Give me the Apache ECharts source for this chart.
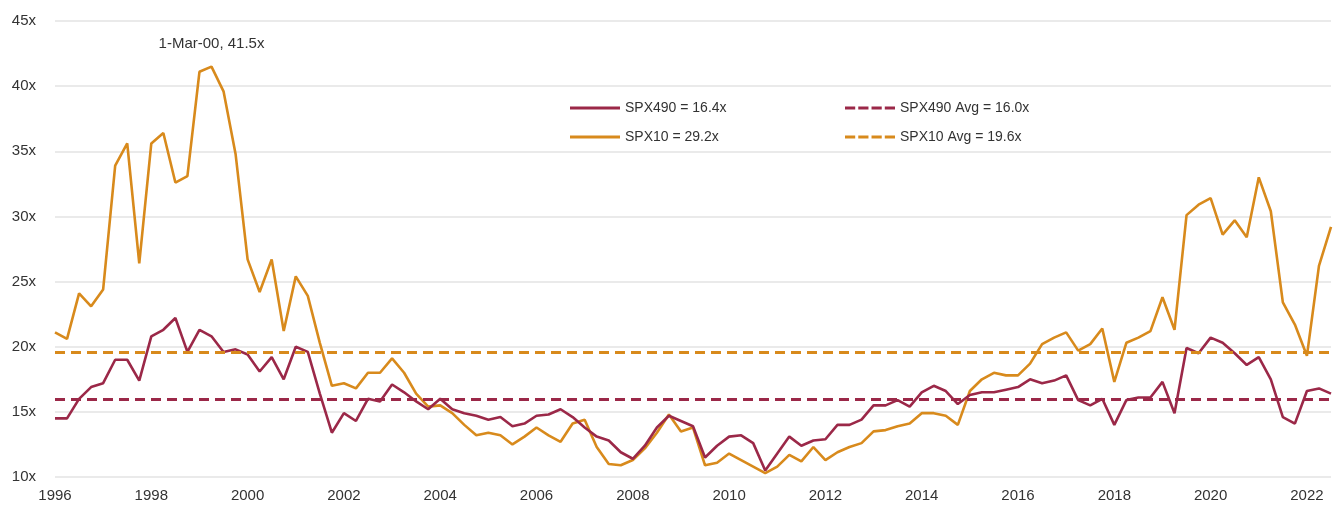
<!DOCTYPE html>
<html>
<head>
<meta charset="utf-8">
<script src="https://cdn.jsdelivr.net/npm/echarts@6/dist/echarts.min.js"></script>
<style>
html,body{margin:0;padding:0;background:#fff;}
#chart{width:1333px;height:506px;}
</style>
</head>
<body>
<div id="chart"></div>
<script>
// Quarterly observations, 1996 Q1 .. 2022 Q3
const quarters = [];
for (let y = 1996; y <= 2022; y++) { for (let q = 1; q <= 4; q++) { quarters.push(y + 'Q' + q); } }
const categories = quarters.slice(0, 107);

const spx490 = [14.5,14.5,16.0,16.9,17.2,19.0,19.0,17.4,20.8,21.3,22.2,19.6,21.3,20.8,19.6,19.8,
19.4,18.1,19.2,17.5,20.0,19.6,16.4,13.4,14.9,14.3,16.0,15.8,17.1,16.5,15.8,15.2,
16.0,15.2,14.9,14.7,14.4,14.6,13.9,14.1,14.7,14.8,15.2,14.6,13.8,13.1,12.8,11.9,
11.4,12.4,13.8,14.7,14.3,13.9,11.5,12.4,13.1,13.2,12.6,10.5,11.8,13.1,12.4,12.8,
12.9,14.0,14.0,14.4,15.5,15.5,15.9,15.4,16.5,17.0,16.6,15.6,16.3,16.5,16.5,16.7,
16.9,17.5,17.2,17.4,17.8,15.9,15.5,16.0,14.0,15.9,16.1,16.1,17.3,14.9,19.9,19.5,
20.7,20.3,19.5,18.6,19.2,17.5,14.6,14.1,16.6,16.8,16.4];

const spx10 = [21.1,20.6,24.1,23.1,24.4,33.9,35.6,26.4,35.6,36.4,32.6,33.1,41.1,41.5,39.6,34.8,
26.7,24.2,26.7,21.2,25.4,23.9,20.3,17.0,17.2,16.8,18.0,18.0,19.1,18.0,16.4,15.4,
15.5,14.9,14.0,13.2,13.4,13.2,12.5,13.1,13.8,13.2,12.7,14.1,14.4,12.3,11.0,10.9,
11.3,12.2,13.4,14.8,13.5,13.8,10.9,11.1,11.8,11.3,10.8,10.3,10.8,11.7,11.2,12.3,
11.3,11.9,12.3,12.6,13.5,13.6,13.9,14.1,14.9,14.9,14.7,14.0,16.6,17.5,18.0,17.8,
17.8,18.7,20.2,20.7,21.1,19.7,20.2,21.4,17.3,20.3,20.7,21.2,23.8,21.3,30.1,30.9,
31.4,28.6,29.7,28.4,33.0,30.4,23.4,21.7,19.3,26.2,29.2];

const avg490 = 16.0;
const avg10 = 19.6;
const yTicks = [10, 15, 20, 25, 30, 35, 40, 45];
const peakIndex = 13;
const peakLabel = '1-Mar-00, 41.5x';

const seriesNames = ['SPX490 = 16.4x', 'SPX10 = 29.2x', 'SPX490 Avg = 16.0x', 'SPX10 Avg = 19.6x'];

const RED = '#9b2848';
const ORANGE = '#d88a1c';
const FONT = 'Liberation Sans, Arial, sans-serif';
const solidIcon = 'path://M0,0 L50,0 L50,3 L0,3 Z';
const dashIcon = 'path://M0,0 h10 v3 h-10 z M13,0 h10 v3 h-10 z M26,0 h10 v3 h-10 z M39,0 h10 v3 h-10 z';

const chart = echarts.init(document.getElementById('chart'), null, {renderer: 'canvas'});
chart.setOption({
  animation: false,
  backgroundColor: '#ffffff',
  textStyle: {fontFamily: FONT},
  grid: {left: 55, right: 2, top: 21, bottom: 29, containLabel: false},
  legend: [
    {
      data: [{name: seriesNames[0], icon: solidIcon}, {name: seriesNames[1], icon: solidIcon}],
      orient: 'vertical', left: 565, top: 96,
      itemWidth: 50, itemHeight: 14, itemGap: 15,
      textStyle: {color: '#333', fontSize: 14, fontFamily: FONT}
    },
    {
      data: [{name: seriesNames[2], icon: dashIcon}, {name: seriesNames[3], icon: dashIcon}],
      orient: 'vertical', left: 840, top: 96,
      itemWidth: 50, itemHeight: 14, itemGap: 15,
      textStyle: {color: '#333', fontSize: 14, fontFamily: FONT}
    }
  ],
  xAxis: {
    type: 'category',
    data: categories,
    boundaryGap: false,
    axisLine: {show: false},
    axisTick: {show: false},
    splitLine: {show: false},
    axisLabel: {
      interval: 7,
      margin: 11,
      color: '#333',
      fontSize: 15,
      formatter: function (v) { return v.slice(0, 4); }
    }
  },
  yAxis: {
    type: 'value',
    min: yTicks[0], max: yTicks[yTicks.length - 1], interval: 5,
    axisLine: {show: false},
    axisTick: {show: false},
    splitLine: {lineStyle: {color: '#e3e3e3', width: 1.5}},
    axisLabel: {color: '#333', fontSize: 15, margin: 19, formatter: '{value}x'}
  },
  series: [
    {
      name: seriesNames[0], type: 'line', data: spx490, symbol: 'none',
      lineStyle: {color: RED, width: 2.6}, itemStyle: {color: RED}, z: 4
    },
    {
      name: seriesNames[1], type: 'line', data: spx10, symbol: 'none',
      lineStyle: {color: ORANGE, width: 2.6}, itemStyle: {color: ORANGE}, z: 3,
      markPoint: {
        symbol: 'circle', symbolSize: 1,
        itemStyle: {color: 'rgba(0,0,0,0)'},
        label: {show: true, position: 'top', distance: 15, color: '#333', fontSize: 15,
                formatter: function () { return peakLabel; }},
        data: [{coord: [peakIndex, spx10[peakIndex]]}]
      }
    },
    {
      name: seriesNames[2], type: 'line', data: [], symbol: 'none',
      lineStyle: {color: RED, width: 3, type: [10, 6]}, itemStyle: {color: RED},
      markLine: {
        silent: true, symbol: ['none', 'none'], label: {show: false},
        lineStyle: {color: RED, width: 3, type: [10, 6]},
        data: [{yAxis: avg490}]
      }
    },
    {
      name: seriesNames[3], type: 'line', data: [], symbol: 'none',
      lineStyle: {color: ORANGE, width: 3, type: [10, 6]}, itemStyle: {color: ORANGE},
      markLine: {
        silent: true, symbol: ['none', 'none'], label: {show: false},
        lineStyle: {color: ORANGE, width: 3, type: [10, 6]},
        data: [{yAxis: avg10}]
      }
    }
  ]
});
</script>
</body>
</html>
